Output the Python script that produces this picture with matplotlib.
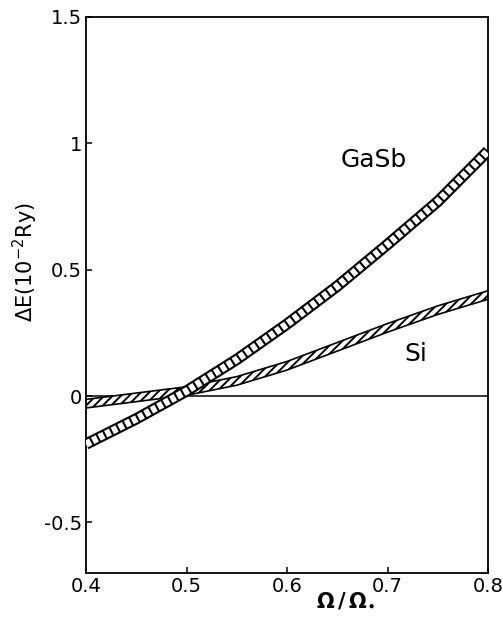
import matplotlib
matplotlib.use("Agg")
import matplotlib.pyplot as plt
import numpy as np

plt.rcParams['font.family'] = ['DejaVu Sans']
plt.rcParams['lines.scale_dashes'] = False
plt.rcParams['hatch.linewidth'] = 1.4

# Energy shift vs. relative volume
omega = [0.40, 0.45, 0.50, 0.55, 0.60, 0.65, 0.70, 0.75, 0.80]
gasb = [-0.19, -0.09, 0.02, 0.145, 0.285, 0.435, 0.60, 0.77, 0.97]
si = [-0.03, -0.005, 0.02, 0.06, 0.12, 0.195, 0.27, 0.34, 0.40]

xticks = [0.4, 0.5, 0.6, 0.7, 0.8]
xtick_labels = ['0.4', '0.5', '0.6', '0.7', '0.8']
yticks = [-0.5, 0, 0.5, 1, 1.5]
ytick_labels = ['-0.5', '0', '0.5', '1', '1.5']

fig = plt.figure(figsize=(5.03, 6.28), dpi=100)
ax = fig.add_axes([86 / 503, 55 / 628, 402 / 503, 556 / 628])
ax.set_xlim(0.4, 0.8)
ax.set_ylim(-0.7, 1.5)

# reference line at zero
ax.axhline(0, color='black', lw=1.1, zorder=1)

# Si: narrow band with diagonal hatching
half = 0.017
si_arr = np.array(si)
ax.fill_between(omega, si_arr - half, si_arr + half, facecolor='white',
                edgecolor='black', hatch='////', lw=1.2, zorder=2)

# GaSb: ladder-style band
ax.plot(omega, gasb, color='black', lw=8.2, solid_capstyle='butt', zorder=3)
ax.plot(omega, gasb, color='white', lw=5.2, dashes=(3.8, 1.5),
        dash_capstyle='butt', zorder=4)

ax.text(0.686, 0.935, 'GaSb', fontsize=18, ha='center', va='center')
ax.text(0.728, 0.165, 'Si', fontsize=18, ha='center', va='center')

ax.set_xticks(xticks)
ax.set_xticklabels(xtick_labels, fontsize=14)
ax.set_yticks(yticks)
ax.set_yticklabels(ytick_labels, fontsize=14)
ax.tick_params(direction='in', length=4, width=1.1, pad=3)
for s in ax.spines.values():
    s.set_linewidth(1.3)

fig.text(345 / 503, 1 - 600 / 628, r'$\mathbf{\Omega\,/\,\Omega}_{\bullet}$',
         fontsize=15, ha='center', va='center')
fig.text(25 / 503, 1 - 262 / 628, r'$\Delta$E(10$^{-2}$Ry)', fontsize=15,
         rotation=90, ha='center', va='center')

fig.savefig('out.png', dpi=100)
